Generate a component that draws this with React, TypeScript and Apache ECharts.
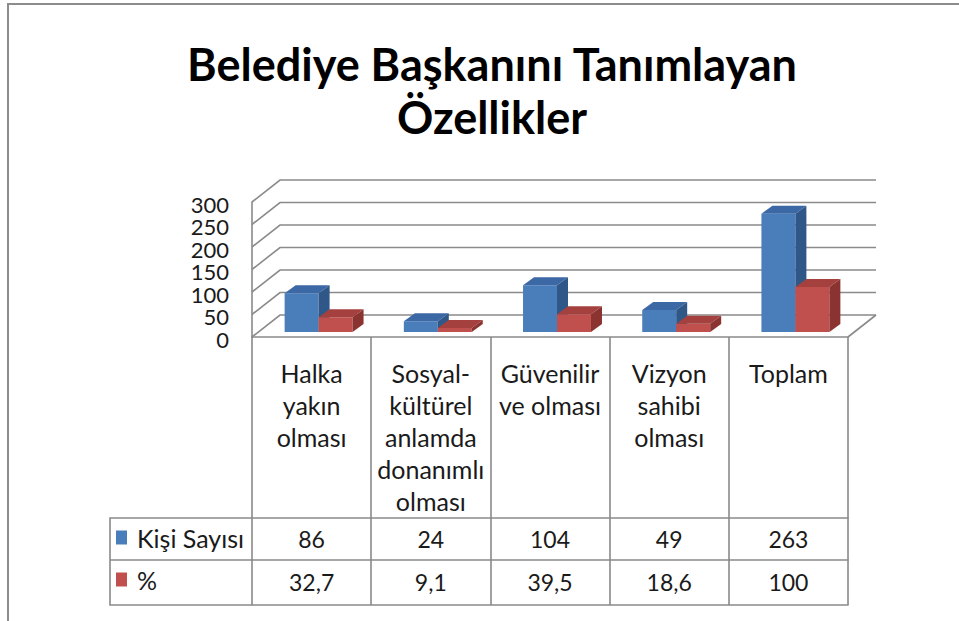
import React, { useEffect, useRef } from "react";
import * as echarts from "echarts";

const titleText = "Belediye Başkanını Tanımlayan\nÖzellikler";
const categories = [
  "Halka\nyakın\nolması",
  "Sosyal-\nkültürel\nanlamda\ndonanımlı\nolması",
  "Güvenilir\nve olması",
  "Vizyon\nsahibi\nolması",
  "Toplam",
];
const seriesNames = ["Kişi Sayısı", "%"];
const kisiSayisi = [86, 24, 104, 49, 263];
const yuzde = [32.7, 9.1, 39.5, 18.6, 100];
const yTicks = [0, 50, 100, 150, 200, 250, 300];

const FONT = "Lato, 'Open Sans', sans-serif";
const TEXT = "#1a1a1a";
const LINE = "#8a8a8a";

// 3D look parameters
const WALL_DX = 28;
const WALL_DY = -22;
const BAR_SHIFT_DX = 7;
const BAR_SHIFT_DY = -5;
const BAR_DX = 11;
const BAR_DY = -8;
const BAR_FRAC = 0.285;

const faces = [
  { front: "#4a7ebb", top: "#3c69a6", side: "#2f5889" },
  { front: "#c0504d", top: "#a4413e", side: "#8a3331" },
];

function makeBarRender(k: number) {
  return (params: any, api: any) => {
    const i = api.value(0);
    const v = api.value(1);
    const top = api.coord([i, v]);
    const base = api.coord([i, 0]);
    const band = api.size([1, 0])[0];
    const w = band * BAR_FRAC;
    const x0 = top[0] + BAR_SHIFT_DX + (k === 0 ? -w : 0);
    const yt = top[1] + BAR_SHIFT_DY;
    const yb = base[1] + BAR_SHIFT_DY;
    const f = faces[k];
    return {
      type: "group",
      children: [
        {
          type: "rect",
          shape: { x: x0, y: yt, width: w, height: yb - yt },
          style: { fill: f.front },
        },
        {
          type: "polygon",
          shape: {
            points: [
              [x0, yt],
              [x0 + w, yt],
              [x0 + w + BAR_DX, yt + BAR_DY],
              [x0 + BAR_DX, yt + BAR_DY],
            ],
          },
          style: { fill: f.top },
        },
        {
          type: "polygon",
          shape: {
            points: [
              [x0 + w, yt],
              [x0 + w + BAR_DX, yt + BAR_DY],
              [x0 + w + BAR_DX, yb + BAR_DY],
              [x0 + w, yb],
            ],
          },
          style: { fill: f.side },
        },
      ],
    };
  };
}

function frameRender(params: any, api: any) {
  const v = api.value(1);
  const c = api.coord([0, v]);
  const band = api.size([1, 0])[0];
  const xl = c[0] - band / 2;
  const xr = xl + band * categories.length;
  const y = c[1];
  const children: any[] = [
    {
      type: "polyline",
      shape: {
        points: [
          [xl, y],
          [xl + WALL_DX, y + WALL_DY],
          [xr + WALL_DX, y + WALL_DY],
        ],
      },
      style: { stroke: LINE, lineWidth: 1.6, fill: null },
    },
    {
      type: "text",
      x: xl - 23,
      y: y + 2,
      style: {
        text: String(v),
        fill: TEXT,
        font: `22px ${FONT}`,
        lineHeight: 20,
        align: "right",
        verticalAlign: "middle",
      },
    },
  ];
  if (v === 0) {
    children.push({
      type: "line",
      shape: { x1: xr, y1: y, x2: xr + WALL_DX, y2: y + WALL_DY },
      style: { stroke: LINE, lineWidth: 1.6 },
    });
  }
  return { type: "group", children };
}

export default function App() {
  const ref = useRef<HTMLDivElement>(null);
  useEffect(() => {
    if (!ref.current) return;
    const chart = echarts.init(ref.current, undefined, { renderer: "svg" });
    const fmt = (n: number) => String(n).replace(".", ",");
    const tableAxisBase = {
      type: "category" as const,
      position: "bottom" as const,
      gridIndex: 0,
      axisTick: { show: false },
      axisLine: { show: true, lineStyle: { color: LINE, width: 1.6 } },
      axisLabel: {
        interval: 0,
        fontFamily: FONT,
        fontSize: 23,
        color: TEXT,
      },
    };
    const legendBase = {
      orient: "horizontal" as const,
      left: 116,
      padding: 0,
      itemWidth: 11,
      itemHeight: 14,
      selectedMode: false,
      icon: "rect",
      textStyle: {
        fontFamily: FONT,
        fontSize: 25,
        color: TEXT,
        padding: [0, 0, 0, 5],
      },
    };
    chart.setOption({
      animation: false,
      backgroundColor: "#ffffff",
      title: {
        text: titleText,
        left: 487,
        top: 32,
        textAlign: "center",
        textStyle: {
          fontFamily: FONT,
          fontWeight: "bold",
          fontSize: 45,
          lineHeight: 53,
          color: "#000000",
        },
      },
      legend: [
        {
          ...legendBase,
          top: 525,
          data: [{ name: seriesNames[0], itemStyle: { color: faces[0].front } }],
        },
        {
          ...legendBase,
          top: 567,
          data: [{ name: seriesNames[1], itemStyle: { color: faces[1].front } }],
        },
      ],
      grid: { left: 252, top: 202, width: 596, height: 135 },
      xAxis: [
        {
          type: "category",
          data: categories,
          position: "bottom",
          gridIndex: 0,
          boundaryGap: true,
          axisLine: { show: true, lineStyle: { color: LINE, width: 1.6 } },
          axisTick: {
            show: true,
            interval: 0,
            length: 268,
            lineStyle: { color: LINE, width: 1.6 },
          },
          axisLabel: {
            interval: 0,
            margin: 20,
            fontFamily: FONT,
            fontSize: 25,
            lineHeight: 32,
            color: TEXT,
          },
        },
        {
          ...tableAxisBase,
          data: kisiSayisi.map(fmt),
          offset: 181,
          axisLabel: { ...tableAxisBase.axisLabel, margin: 9 },
        },
        {
          ...tableAxisBase,
          data: yuzde.map(fmt),
          offset: 223,
          axisLabel: { ...tableAxisBase.axisLabel, margin: 10 },
        },
        {
          ...tableAxisBase,
          data: categories.map(() => ""),
          offset: 268,
          axisLabel: { show: false },
        },
      ],
      yAxis: {
        type: "value",
        min: 0,
        max: 300,
        interval: 50,
        axisLine: { show: true, lineStyle: { color: LINE, width: 1.6 } },
        axisTick: { show: false },
        splitLine: { show: false },
        axisLabel: { show: false },
      },
      graphic: [
        {
          type: "polyline",
          shape: { points: [[8, 621], [8, 4], [959, 4]] },
          style: { stroke: "#8c8c8c", lineWidth: 2, fill: null },
        },
        {
          type: "polyline",
          shape: { points: [[252, 518], [110, 518], [110, 605], [252, 605]] },
          style: { stroke: LINE, lineWidth: 1.6, fill: null },
        },
        {
          type: "line",
          shape: { x1: 110, y1: 560, x2: 252, y2: 560 },
          style: { stroke: LINE, lineWidth: 1.6 },
        },
      ],
      series: [
        {
          type: "custom",
          name: "frame",
          silent: true,
          z: 1,
          renderItem: frameRender,
          data: yTicks.map((v) => [0, v]),
          encode: { x: 0, y: 1 },
        },
        {
          type: "custom",
          name: seriesNames[0],
          z: 3,
          itemStyle: { color: faces[0].front },
          renderItem: makeBarRender(0),
          data: kisiSayisi.map((v, i) => [i, v]),
          encode: { x: 0, y: 1 },
        },
        {
          type: "custom",
          name: seriesNames[1],
          z: 4,
          itemStyle: { color: faces[1].front },
          renderItem: makeBarRender(1),
          data: yuzde.map((v, i) => [i, v]),
          encode: { x: 0, y: 1 },
        },
      ],
    });
    return () => chart.dispose();
  }, []);
  return (
    <div
      ref={ref}
      style={{ position: "fixed", left: 0, top: 0, width: 959, height: 621 }}
    />
  );
}
